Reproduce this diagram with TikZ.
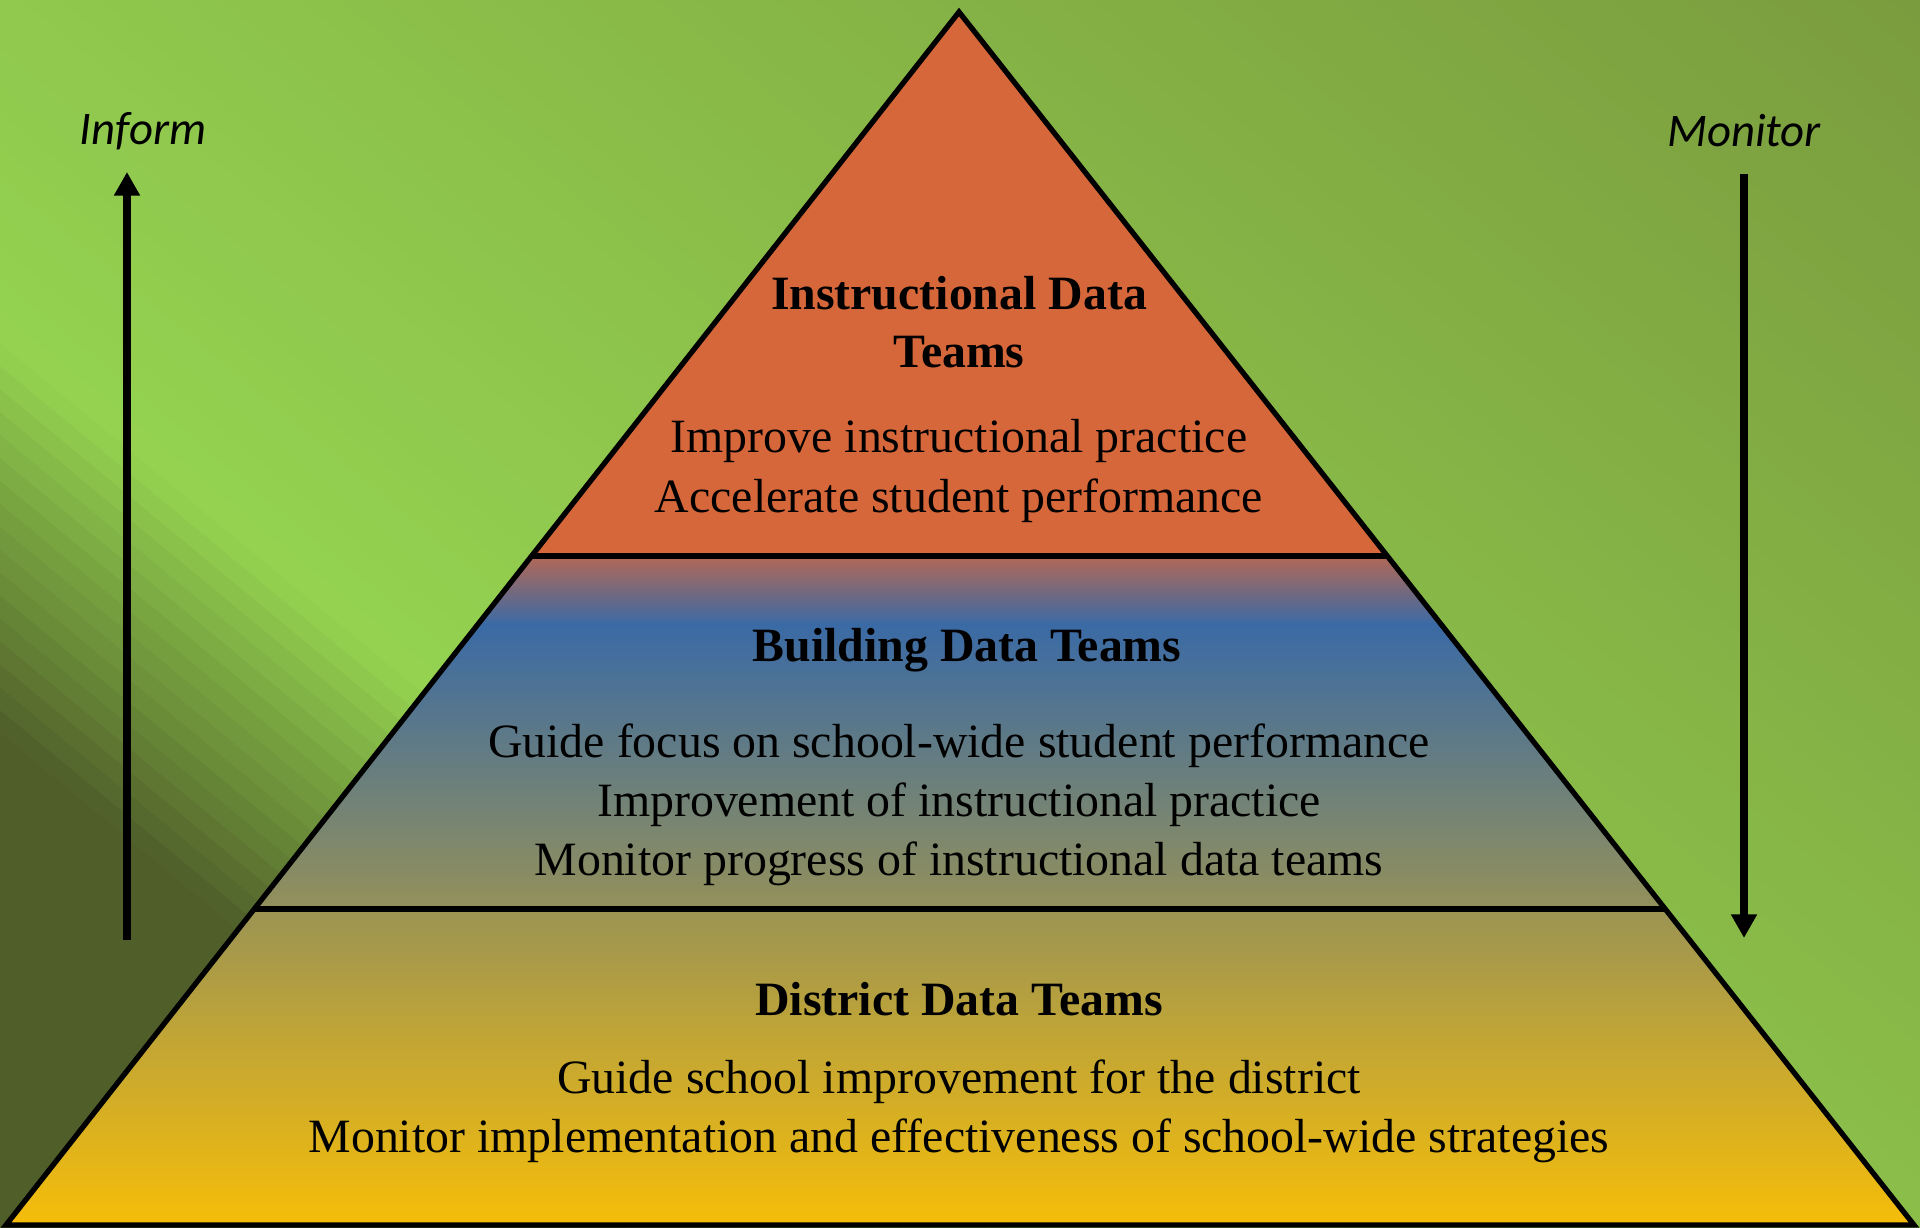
\documentclass[tikz,border=0pt]{standalone}
\usepackage{fontspec}
\setmainfont{Liberation Serif}
\newfontfamily\labelfont{Carlito}
\usepackage{xcolor}
\usepackage{tikz}
\usetikzlibrary{positioning,calc,arrows.meta}

\definecolor{bgdark}{RGB}{80,95,42}
\definecolor{bgridge}{RGB}{148,210,80}
\definecolor{bgcorner}{RGB}{122,155,62}
\definecolor{toporange}{RGB}{214,103,58}
\definecolor{midtop}{RGB}{178,104,86}
\definecolor{midblue}{RGB}{58,106,165}
\definecolor{midlow}{RGB}{148,145,90}
\definecolor{lowtop}{RGB}{156,148,84}
\definecolor{lowgold}{RGB}{247,190,8}

\tikzset{
  tier title/.style={font=\fontsize{13.6pt}{16.4pt}\selectfont\bfseries, align=center},
  tier text/.style={font=\fontsize{13.6pt}{16.8pt}\selectfont, align=center},
  side label/.style={font=\labelfont\itshape\fontsize{13.3pt}{16pt}\selectfont},
  edge/.style={line width=1.5pt, line join=miter},
  flow/.style={line width=2.3pt, -{Triangle[width=7pt,length=6.7pt]}},
}

\begin{document}
\begin{tikzpicture}[x=0.01cm, y=-0.01cm]
\useasboundingbox (0,0) rectangle (1920,1228);

% background: diagonal green wash, dark corner at the lower left
\begin{scope}
\clip (0,0) rectangle (1920,1228);
\begin{scope}[shift={(0,1228)}, x={(0.00638cm,0.0077cm)}, y={(0.0077cm,-0.00638cm)}]
\fill[bgdark] (-100,-1000) -- (382,-1000) -- (382,1700) -- (-100,1700) -- cycle;
\foreach \k in {0,...,16}{
  \pgfmathsetmacro\sa{381+\k*17.65}
  \pgfmathsetmacro\sb{\sa+18.5}
  \pgfmathtruncatemacro\pc{(\k+0.5)*100/17}
  \fill[bgridge!\pc!bgdark] (\sa,-1000) -- (\sb,-1000) -- (\sb,1700) -- (\sa,1700) -- cycle;
}
\foreach \k in {0,...,59}{
  \pgfmathsetmacro\sa{681+\k*25.3}
  \pgfmathsetmacro\sb{\sa+26.5}
  \pgfmathtruncatemacro\pc{(\k+0.5)*100/59}
  \fill[bgcorner!\pc!bgridge] (\sa,-1000) -- (\sb,-1000) -- (\sb,1700) -- (\sa,1700) -- cycle;
}
\end{scope}
\end{scope}

% pyramid corners and tier borders
\coordinate (apex) at (959,12);
\coordinate (bl) at (6,1225);
\coordinate (br) at (1914,1225);
\coordinate (l1) at ($(apex)!0.4485!(bl)$);
\coordinate (r1) at ($(apex)!0.4485!(br)$);
\coordinate (l2) at ($(apex)!0.7395!(bl)$);
\coordinate (r2) at ($(apex)!0.7395!(br)$);

% tier fills
\begin{scope}
\clip (apex) -- (bl) -- (br) -- cycle;
\fill[toporange] (0,0) rectangle (1920,557);
\shade[top color=midtop, bottom color=midblue] (0,556) rectangle (1920,625);
\shade[top color=midblue, bottom color=midlow] (0,624) rectangle (1920,910);
\shade[top color=lowtop, bottom color=lowgold] (0,909) rectangle (1920,1228);
\end{scope}

\draw[edge] (apex) -- (bl) -- (br) -- cycle;
\draw[edge] (l1) -- (r1);
\draw[edge] (l2) -- (r2);

% tier texts
\node[tier title] (idt) at (959,322) {Instructional Data\\Teams};
\node[tier text] (idt-goals) at (959,471) {Improve instructional practice\\Accelerate student performance};
\node[tier title] (bdt) at (967,650) {Building Data Teams};
\node[tier text] (bdt-goals) at (959,805) {Guide focus on school-wide student performance\\Improvement of instructional practice\\Monitor progress of instructional data teams};
\node[tier title] (ddt) at (959,999) {District Data Teams};
\node[tier text] (ddt-goals) at (959,1111) {Guide school improvement for the district\\Monitor implementation and effectiveness of school-wide strategies};

% side arrows
\node[side label] (inform) at (143,131) {Inform};
\node[side label] (monitor) at (1744,131) {Monitor};
\coordinate (inform-bot) at (127,940);
\coordinate (inform-top) at (127,172);
\coordinate (monitor-top) at (1744,174);
\coordinate (monitor-bot) at (1744,938);
\draw[flow] (inform-bot) -- (inform-top);
\draw[flow] (monitor-top) -- (monitor-bot);
\end{tikzpicture}
\end{document}
